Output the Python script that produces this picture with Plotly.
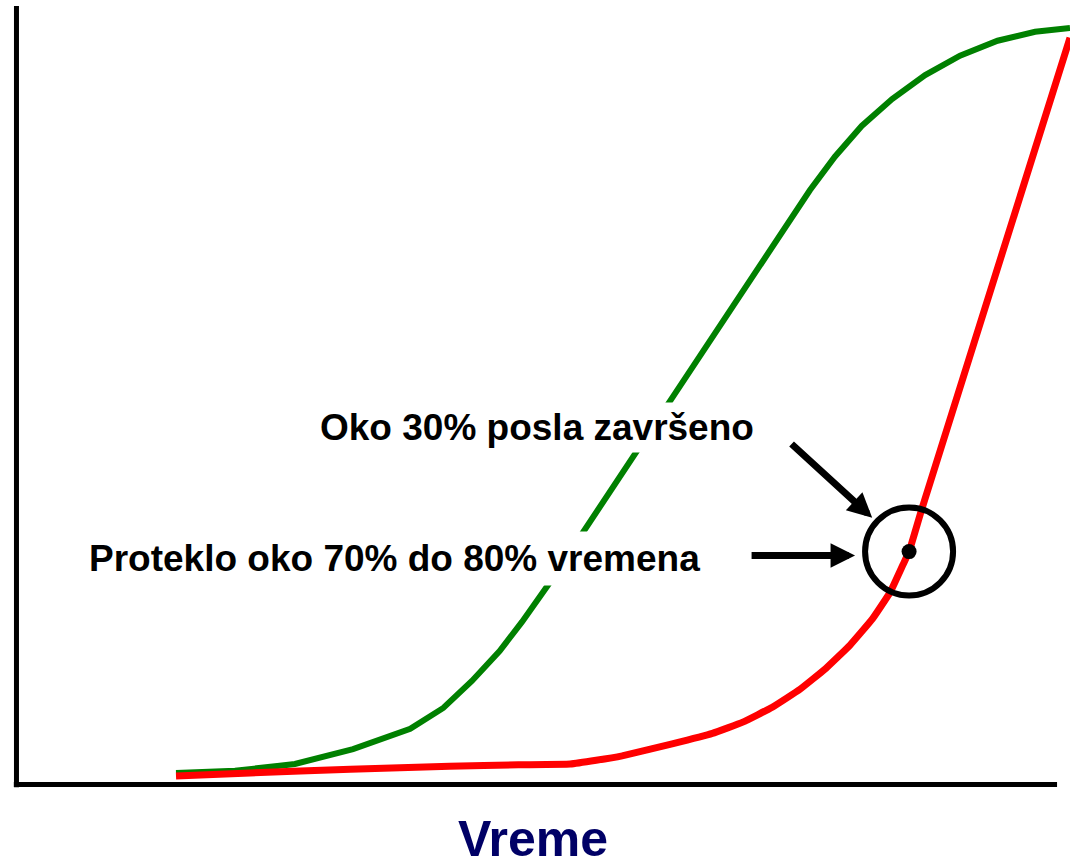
import plotly.graph_objects as go

# Percent of elapsed time (x) vs percent of work done (y)
green_time = [0, 6.6, 13.3, 19.8, 26.2, 29.9, 33.1, 36.2, 38.7, 41.6,
              70.9, 73.7, 76.7, 80.1, 83.8, 87.7, 91.9, 96.1, 100]
green_work = [0.4, 0.7, 1.6, 3.6, 6.3, 9.1, 12.7, 16.7, 20.6, 25.5,
              78.3, 82.8, 86.9, 90.5, 93.7, 96.3, 98.3, 99.5, 100]

red_time = [0, 8.3, 19.5, 30.6, 38.3, 44.1, 47.0, 49.9, 55.5, 60.0, 63.4, 66.7,
            69.8, 72.7, 75.4, 77.9, 79.9, 81.3, 82.0, 83.4, 100]
red_work = [0, 0.4, 0.9, 1.3, 1.5, 1.6, 2.1, 2.7, 4.3, 5.7, 7.2, 9.2,
            11.6, 14.4, 17.5, 21.0, 24.6, 28.2, 30.0, 35.6, 98.7]

marked_time = 82.0
marked_work = 30.0

label_work = "Oko 30% posla završeno"
label_time = "Proteklo oko 70% do 80% vremena"
axis_title = "Vreme"

FONT = "Liberation Sans, Arial, sans-serif"

fig = go.Figure()
fig.add_trace(go.Scatter(x=green_time, y=green_work, mode="lines",
                         line=dict(color="#008000", width=6), hoverinfo="skip"))
fig.add_trace(go.Scatter(x=red_time, y=red_work, mode="lines",
                         line=dict(color="#ff0000", width=7, shape="spline", smoothing=0.3),
                         hoverinfo="skip"))
fig.add_trace(go.Scatter(x=[marked_time], y=[marked_work], mode="markers",
                         marker=dict(color="black", size=15), hoverinfo="skip"))

# axis lines
fig.add_shape(type="line", xref="paper", yref="paper", x0=-0.0005, x1=-0.0005,
              y0=-0.003, y1=0.9924, line=dict(color="black", width=5))
fig.add_shape(type="line", xref="paper", yref="paper", x0=-0.003, x1=0.9877,
              y0=0.0006, y1=0.0006, line=dict(color="black", width=5))

# ring around the marked point
fig.add_shape(type="circle", xref="x", yref="y", xsizemode="pixel", ysizemode="pixel",
              xanchor=marked_time, yanchor=marked_work, x0=-44, x1=44, y0=-44, y1=44,
              line=dict(color="black", width=6), layer="above")

# labels (white box hides the curve behind the text)
fig.add_annotation(x=15.6, y=46.6, xref="x", yref="y", xanchor="left", yanchor="middle",
                   text=f"<b>{label_work}</b>", showarrow=False, bgcolor="white",
                   borderpad=4, font=dict(family=FONT, size=37, color="black"))
fig.add_annotation(x=-10.5, y=29.1, xref="x", yref="y", xanchor="left", yanchor="middle",
                   text=f"<b>{label_time}</b>", showarrow=False, bgcolor="white",
                   borderpad=6, font=dict(family=FONT, size=37, color="black"))

# arrows pointing at the ring
fig.add_annotation(x=marked_time, y=marked_work, xref="x", yref="y", text="",
                   showarrow=True, ax=-119, ay=-109, standoff=50,
                   arrowhead=2, arrowwidth=7, arrowsize=0.7, arrowcolor="black")
fig.add_annotation(x=marked_time, y=marked_work, xref="x", yref="y", text="",
                   showarrow=True, ax=-159, ay=0, yshift=-4, standoff=54,
                   arrowhead=2, arrowwidth=7, arrowsize=0.7, arrowcolor="black")

fig.add_annotation(x=0.4905, y=-0.069, xref="paper", yref="paper", xanchor="center",
                   yanchor="middle", text=f"<b>{axis_title}</b>", showarrow=False,
                   borderpad=0, font=dict(family=FONT, size=50, color="#000066"))

fig.update_layout(
    width=1070, height=867,
    margin=dict(l=17, r=0, t=0, b=82),
    paper_bgcolor="white", plot_bgcolor="white",
    showlegend=False,
    xaxis=dict(range=[-17.785, 100], visible=False),
    yaxis=dict(range=[-1.203, 103.743], visible=False),
)

fig.write_html("out.html")
